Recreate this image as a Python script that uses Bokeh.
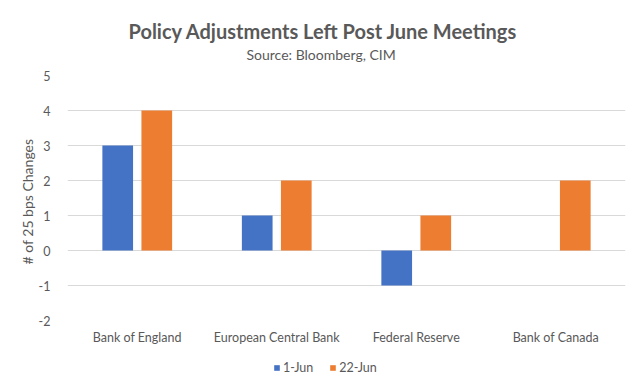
from bokeh.plotting import figure
from bokeh.layouts import column
from bokeh.models import (ColumnDataSource, FactorRange, Range1d, FixedTicker,
                          Legend, LegendItem, Title)
from bokeh.transform import dodge
from bokeh.embed import file_html
from bokeh.resources import INLINE

categories = ["Bank of England", "European Central Bank", "Federal Reserve", "Bank of Canada"]
series_names = ["1-Jun", "22-Jun"]
series_colors = ["#4472C4", "#ED7D31"]
jun1 = [3, 1, -1, 0]
jun22 = [4, 2, 1, 2]
y_ticks = [-2, -1, 0, 1, 2, 3, 4, 5]

title_text = "Policy Adjustments Left Post June Meetings"
subtitle_text = "Source: Bloomberg, CIM"
y_label = "# of  25  bps Changes"

FONT = "Lato"
TXT = "#595959"

src = ColumnDataSource(dict(cat=categories, jun1=jun1, jun22=jun22))

p = figure(width=642, height=355, x_range=FactorRange(*categories),
           y_range=Range1d(-2, 5), output_backend="svg", toolbar_location=None,
           min_border_left=67, min_border_right=17, min_border_top=75, min_border_bottom=35)
p.outline_line_color = None
p.xgrid.grid_line_color = None
p.ygrid.grid_line_color = "#d9d9d9"
p.ygrid.grid_line_width = 1

p.vbar(x=dodge("cat", -0.14, range=p.x_range), top="jun1", width=0.22,
       source=src, fill_color=series_colors[0], line_color=None)
p.vbar(x=dodge("cat", 0.14, range=p.x_range), top="jun22", width=0.22,
       source=src, fill_color=series_colors[1], line_color=None)

p.yaxis.ticker = FixedTicker(ticks=y_ticks)
p.yaxis.major_label_overrides = {t: str(t) for t in y_ticks}
for ax in (p.xaxis[0], p.yaxis[0]):
    ax.axis_line_color = None
    ax.major_tick_line_color = None
    ax.minor_tick_line_color = None
    ax.major_label_text_font = FONT
    ax.major_label_text_color = TXT
    ax.major_label_text_font_size = "12.5px"
p.xaxis.major_label_standoff = 3
p.yaxis.major_label_standoff = 11
p.yaxis.axis_label = y_label
p.yaxis.axis_label_text_font = FONT
p.yaxis.axis_label_text_font_style = "normal"
p.yaxis.axis_label_text_font_size = "14px"
p.yaxis.axis_label_text_color = TXT
p.yaxis.axis_label_standoff = 0

# blank spacer between the titles and the plot area
p.add_layout(Title(text=" ", text_font_size="1px", standoff=9), "above")
p.add_layout(Title(text=subtitle_text, align="left", offset=179, text_font=FONT,
                   text_font_size="14px", text_font_style="normal", text_color=TXT,
                   standoff=2), "above")
p.add_layout(Title(text=title_text, align="left", offset=61, text_font=FONT,
                   text_font_size="20px", text_font_style="bold", text_color=TXT,
                   standoff=0), "above")

# legend strip below the chart (zero-height proxy bars carry the colours)
lg = figure(width=642, height=36, x_range=Range1d(0, 1), y_range=Range1d(0, 1),
            x_axis_type=None, y_axis_type=None, output_backend="svg",
            toolbar_location=None, min_border=0)
lg.outline_line_color = None
lg.xgrid.grid_line_color = None
lg.ygrid.grid_line_color = None
proxies = [lg.vbar(x=[0.5], top=[0], bottom=[0], width=0.1, fill_color=c, line_color=None)
           for c in series_colors]
legend = Legend(items=[LegendItem(label=n, renderers=[r]) for n, r in zip(series_names, proxies)],
                orientation="horizontal", location=(206, 16),
                glyph_width=7, glyph_height=7, label_standoff=3, spacing=16,
                padding=0, margin=0, label_height=14,
                label_text_font=FONT, label_text_font_size="12.5px",
                label_text_color=TXT, border_line_color=None,
                background_fill_alpha=0)
lg.add_layout(legend, "center")

layout = column(p, lg, spacing=0)
open("out.html", "w").write(file_html(layout, INLINE))
